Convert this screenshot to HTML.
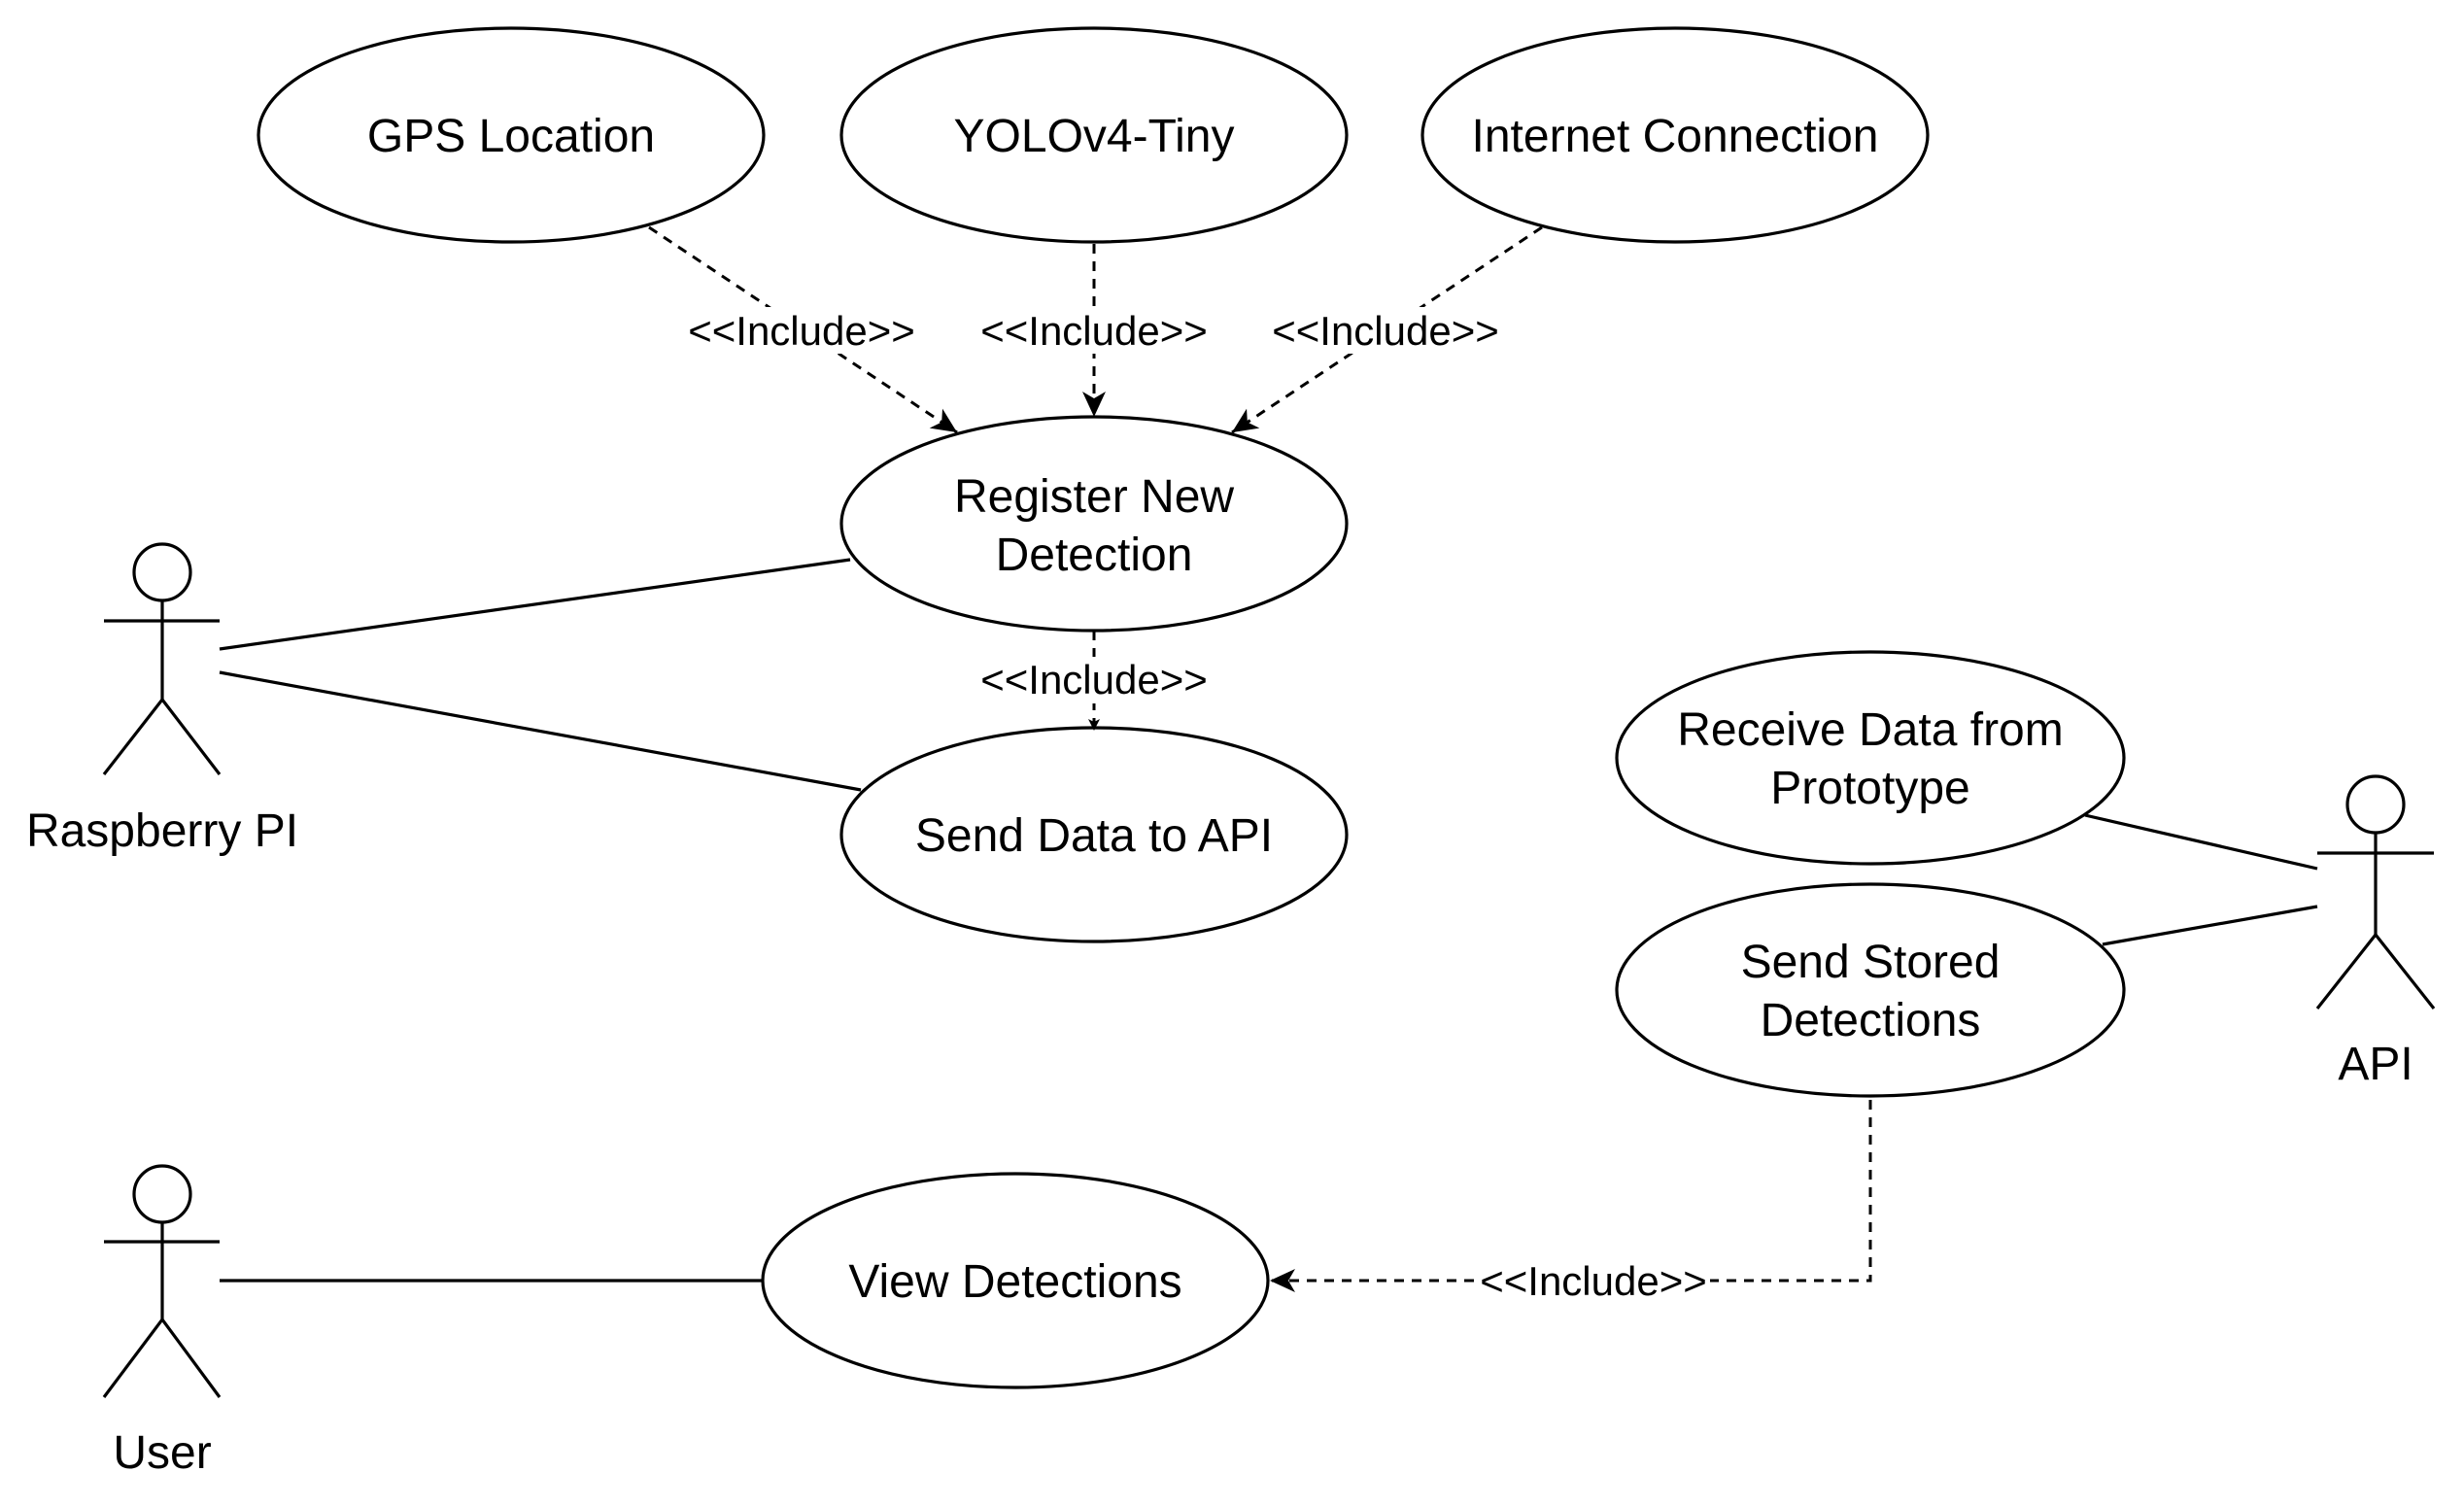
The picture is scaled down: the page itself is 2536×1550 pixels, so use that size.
<!DOCTYPE html>
<html><head><meta charset="utf-8"><style>html,body{margin:0;padding:0;background:#fff}</style></head>
<body>
<svg width="2536" height="1545" viewBox="0 0 2536 1545" xmlns="http://www.w3.org/2000/svg" font-family="Liberation Sans, Arial, sans-serif">
<defs>
<marker id="a" markerWidth="12" markerHeight="12" refX="10" refY="6" orient="auto" markerUnits="userSpaceOnUse" viewBox="0 0 12 12">
<path d="M0,0 L12,6 L0,12 L3,6 Z" fill="#000"/></marker>
<marker id="b" markerWidth="28" markerHeight="28" refX="26" refY="14" orient="auto" markerUnits="userSpaceOnUse" viewBox="0 0 28 28">
<path d="M0,2 L26,14 L0,26 L7,14 Z" fill="#000"/></marker>
</defs>
<g fill="#fff" stroke="#000" stroke-width="3.2">
<ellipse cx="526" cy="139" rx="260" ry="110"/>
<ellipse cx="1126" cy="139" rx="260" ry="110"/>
<ellipse cx="1724" cy="139" rx="260" ry="110"/>
<ellipse cx="1126" cy="539" rx="260" ry="110"/>
<ellipse cx="1126" cy="859" rx="260" ry="110"/>
<ellipse cx="1925" cy="780" rx="261" ry="109"/>
<ellipse cx="1925" cy="1019" rx="261" ry="109"/>
<ellipse cx="1045" cy="1318" rx="260" ry="110"/>
</g>
<g fill="none" stroke="#000" stroke-width="3.2">
<line x1="226" y1="668" x2="875" y2="576"/>
<line x1="226" y1="692" x2="886" y2="813"/>
<line x1="226" y1="1318" x2="786" y2="1318"/>
<line x1="2385" y1="894" x2="2146" y2="839"/>
<line x1="2385" y1="933" x2="2164" y2="972"/>
<circle cx="167" cy="589" r="29"/><line x1="107" y1="639" x2="226" y2="639"/><line x1="167" y1="618" x2="167" y2="720"/><path d="M107,797 L167,720 L226,797"/>
<circle cx="167" cy="1229" r="29"/><line x1="107" y1="1278" x2="226" y2="1278"/><line x1="167" y1="1258" x2="167" y2="1358"/><path d="M107,1438 L167,1358 L226,1438"/>
<circle cx="2445" cy="828" r="29"/><line x1="2385" y1="878" x2="2505" y2="878"/><line x1="2445" y1="857" x2="2445" y2="962"/><path d="M2385,1038 L2445,962 L2505,1038"/>
</g>
<g fill="none" stroke="#000" stroke-width="3" stroke-dasharray="10 8">
<line x1="668" y1="234" x2="985" y2="445" marker-end="url(#b)"/>
<line x1="1126" y1="251" x2="1126" y2="429" marker-end="url(#b)"/>
<line x1="1587" y1="234" x2="1268" y2="445" marker-end="url(#b)"/>
<line x1="1126" y1="649" x2="1126" y2="750" marker-end="url(#a)"/>
<polyline points="1925,1132 1925,1318 1307,1318" marker-end="url(#b)"/>
</g>
<g font-size="42" text-anchor="middle" fill="#000">
<rect x="700" y="316" width="250" height="48" fill="#fff"/><text x="825" y="355">&lt;&lt;Include&gt;&gt;</text>
<rect x="1001" y="316" width="250" height="48" fill="#fff"/><text x="1126" y="355">&lt;&lt;Include&gt;&gt;</text>
<rect x="1301" y="316" width="250" height="48" fill="#fff"/><text x="1426" y="355">&lt;&lt;Include&gt;&gt;</text>
<rect x="1001" y="676" width="250" height="48" fill="#fff"/><text x="1126" y="714">&lt;&lt;Include&gt;&gt;</text>
<rect x="1520" y="1296" width="240" height="44" fill="#fff"/><text x="1640" y="1333">&lt;&lt;Include&gt;&gt;</text>
</g>
<g font-size="48" text-anchor="middle" fill="#000">
<text x="526" y="156">GPS Location</text>
<text x="1126" y="156">YOLOv4-Tiny</text>
<text x="1724" y="156">Internet Connection</text>
<text x="1126" y="527">Register New</text>
<text x="1126" y="587">Detection</text>
<text x="1126" y="876">Send Data to API</text>
<text x="1925" y="767">Receive Data from</text>
<text x="1925" y="827">Prototype</text>
<text x="1925" y="1006">Send Stored</text>
<text x="1925" y="1066">Detections</text>
<text x="1045" y="1335">View Detections</text>
<text x="167" y="871">Raspberry PI</text>
<text x="167" y="1511">User</text>
<text x="2445" y="1111">API</text>
</g>
</svg>
</body></html>
